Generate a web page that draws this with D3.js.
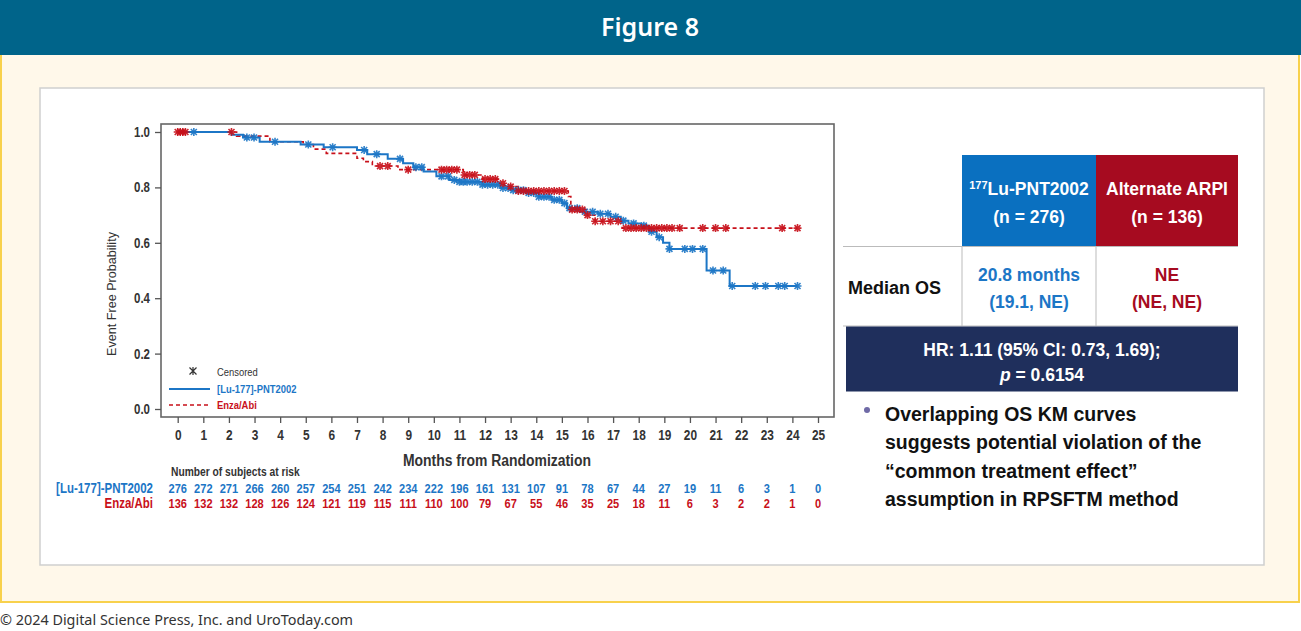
<!DOCTYPE html>
<html><head><meta charset="utf-8">
<script src="https://cdn.jsdelivr.net/npm/d3@7"></script>
<style>
html,body{margin:0;padding:0;background:#fff;}
svg{display:block;}
</style></head>
<body>
<svg id="c" width="1301" height="631"></svg>
<script>
// ---------- DATA ----------
const months = d3.range(0, 26);
const yTicks = [0.0, 0.2, 0.4, 0.6, 0.8, 1.0];
const seriesNames = ["[Lu-177]-PNT2002", "Enza/Abi"];
// Kaplan-Meier steps [month, survival]
const luSteps = [[0,1],[2.1,0.99],[2.55,0.98],[3.2,0.965],[4.8,0.955],[5.7,0.945],[7.0,0.935],[7.4,0.92],[8.2,0.903],[8.8,0.887],[9.2,0.873],[9.6,0.857],[10.1,0.84],[10.6,0.827],[11.0,0.82],[11.9,0.81],[12.6,0.798],[13.0,0.79],[13.6,0.78],[14.1,0.766],[14.6,0.755],[15.0,0.743],[15.2,0.725],[15.7,0.712],[16.4,0.705],[16.9,0.694],[17.3,0.68],[17.6,0.67],[18.1,0.662],[18.4,0.64],[18.7,0.62],[18.95,0.6],[19.2,0.578],[20.65,0.5],[21.55,0.444],[24.2,0.444]];
const enzaSteps = [[0,1],[2.3,0.985],[3.6,0.965],[4.9,0.955],[5.3,0.938],[5.8,0.923],[7.0,0.905],[7.25,0.893],[7.6,0.877],[8.6,0.864],[11.15,0.845],[11.9,0.83],[12.55,0.815],[12.75,0.803],[13.3,0.787],[15.25,0.767],[15.35,0.72],[16.0,0.70],[16.3,0.678],[17.35,0.653],[24.2,0.653]];
// censoring times (months)
const luCensor = [0.63,2.7,2.98,3.8,5.1,6.05,7.28,7.77,8.68,9.3,9.53,10.3,10.56,10.8,11.0,11.15,11.3,11.5,11.7,11.9,12.1,12.3,12.5,12.7,12.9,13.1,13.3,13.5,13.7,13.9,14.1,14.3,14.5,14.7,14.9,15.1,15.3,15.6,15.9,16.2,16.5,16.8,17.1,17.4,17.8,18.2,18.5,18.8,19.2,19.8,20.1,20.5,20.9,21.3,21.65,22.55,22.95,23.45,23.7,24.2];
const enzaCensor = [0.0,0.1,0.2,0.3,2.1,7.9,8.2,9.0,10.3,10.5,10.7,10.9,11.2,11.4,11.6,12.0,12.2,12.4,12.7,13.0,13.3,13.5,13.7,13.9,14.1,14.3,14.5,14.7,14.9,15.1,15.4,15.6,15.8,16.0,16.3,16.6,16.9,17.2,17.5,17.7,17.9,18.1,18.3,18.5,18.7,18.9,19.1,19.3,19.6,20.5,21.0,21.4,23.6,24.2];
// numbers at risk
const luRisk = [276,272,271,266,260,257,254,251,242,234,222,196,161,131,107,91,78,67,44,27,19,11,6,3,1,0];
const enzaRisk = [136,132,132,128,126,124,121,119,115,111,110,100,79,67,55,46,35,25,18,11,6,3,2,2,1,0];
// summary table
const tableHead1 = ["Lu-PNT2002", "(n = 276)"];
const tableHead2 = ["Alternate ARPI", "(n = 136)"];
const medianLu = ["20.8 months", "(19.1, NE)"];
const medianEnza = ["NE", "(NE, NE)"];
const bulletLines = ["Overlapping OS KM curves", "suggests potential violation of the", "\u201ccommon treatment effect\u201d", "assumption in RPSFTM method"];

// ---------- STYLE ----------
const BLUE = "#1c76c6", RED = "#c8101a";
const SANS = "'Liberation Sans',Arial,sans-serif";
const SQ = 0.82; // horizontal condensing for the plot's narrow type

const svg = d3.select("#c");

// narrow text helper
function ntext(parent, x, y, str, opt){
  opt = opt || {};
  return parent.append("text")
    .attr("transform", `translate(${x},${y}) scale(${SQ},1)`)
    .attr("text-anchor", opt.anchor || "start")
    .attr("font-family", SANS)
    .attr("font-size", opt.size || 12)
    .attr("font-weight", opt.weight || "normal")
    .attr("fill", opt.fill || "#333")
    .text(str);
}

// page frame
svg.append("rect").attr("x",0).attr("y",0).attr("width",1301).attr("height",631).attr("fill","#fff");
svg.append("rect").attr("x",1).attr("y",52).attr("width",1298).attr("height",550)
  .attr("fill","#fff8ea").attr("stroke","#f8d14c").attr("stroke-width",2);
svg.append("rect").attr("x",0).attr("y",0).attr("width",1301).attr("height",55).attr("fill","#00648a");
svg.append("text").attr("x",650).attr("y",36).attr("text-anchor","middle")
  .attr("font-family","'Noto Sans','Open Sans',sans-serif").attr("font-weight",600)
  .attr("font-size",25).attr("fill","#fff").text("Figure 8");
svg.append("text").attr("x",0).attr("y",625)
  .attr("font-family","'Noto Sans','Open Sans',sans-serif")
  .attr("font-size",14.4).attr("fill","#333").text("\u00a9 2024 Digital Science Press, Inc. and UroToday.com");

// white panel
svg.append("rect").attr("x",40).attr("y",88).attr("width",1224).attr("height",477)
  .attr("fill","#fff").attr("stroke","#cfcfcf").attr("stroke-width",1.5);

// ---------- KM plot ----------
const x = d3.scaleLinear().domain([0,25]).range([177.7,818]);
const y = d3.scaleLinear().domain([0,1]).range([409,132]);
const fx0 = 161, fx1 = 834, fy0 = 124, fy1 = 417;

const g = svg.append("g");
g.append("rect").attr("x",fx0).attr("y",fy0).attr("width",fx1-fx0).attr("height",fy1-fy0)
  .attr("fill","#fff").attr("stroke","#666").attr("stroke-width",1.6);

// y axis
const yAxis = d3.axisLeft(y).tickValues(yTicks).tickFormat(d3.format(".1f")).tickSize(6).tickSizeOuter(0);
const ya = g.append("g").attr("transform",`translate(${fx0},0)`).call(yAxis);
ya.select(".domain").remove();
ya.selectAll("line").attr("stroke","#555").attr("stroke-width",1.3);
ya.selectAll("text").attr("font-family",SANS).attr("font-weight","bold").attr("font-size",14)
  .attr("fill","#333").attr("x",-11/SQ).attr("transform",`scale(${SQ},1)`);

// x axis
const xAxis = d3.axisBottom(x).tickValues(months).tickFormat(d3.format("d")).tickSize(6).tickSizeOuter(0);
const xa = g.append("g").attr("transform",`translate(0,${fy1})`).call(xAxis);
xa.select(".domain").remove();
xa.selectAll("line").attr("stroke","#555").attr("stroke-width",1.3);
xa.selectAll("text").attr("font-family",SANS).attr("font-weight","bold").attr("font-size",14.5)
  .attr("fill","#333").attr("y",13).attr("transform",`scale(${SQ},1)`);

ntext(g, 497, 466, "Months from Randomization", {anchor:"middle", size:17, weight:"bold"});
g.append("text").attr("transform","translate(116,294) rotate(-90)").attr("text-anchor","middle")
  .attr("font-family",SANS).attr("font-size",12.6).attr("fill","#333")
  .text("Event Free Probability");

// curves
const line = d3.line().x(d=>x(d[0])).y(d=>y(d[1])).curve(d3.curveStepAfter);
function survAt(steps,t){let s=steps[0][1];for(const p of steps){if(p[0]<=t)s=p[1];}return s;}
const marker = "M-4,0H4M0,-4V4M-3,-3L3,3M-3,3L3,-3";

g.append("path").datum(enzaSteps).attr("d",line).attr("fill","none")
  .attr("stroke",RED).attr("stroke-width",1.6).attr("stroke-dasharray","4,3");
g.append("path").datum(luSteps).attr("d",line).attr("fill","none")
  .attr("stroke",BLUE).attr("stroke-width",2);

g.selectAll(".cl").data(luCensor).enter().append("path")
  .attr("transform",d=>`translate(${x(d)},${y(survAt(luSteps,d))})`)
  .attr("d",marker).attr("stroke",BLUE).attr("stroke-width",1.6).attr("opacity",0.9);
g.selectAll(".ce").data(enzaCensor).enter().append("path")
  .attr("transform",d=>`translate(${x(d)},${y(survAt(enzaSteps,d))})`)
  .attr("d",marker).attr("stroke",RED).attr("stroke-width",1.6).attr("opacity",0.9);

// legend
g.append("path").attr("transform","translate(193,371)")
  .attr("d","M-3.5,-3.5L3.5,3.5M-3.5,3.5L3.5,-3.5M0,-4V4")
  .attr("stroke","#333").attr("stroke-width",1.2);
ntext(g, 217, 376, "Censored", {size:11.5});
g.append("line").attr("x1",169).attr("x2",210).attr("y1",389).attr("y2",389).attr("stroke",BLUE).attr("stroke-width",1.8);
ntext(g, 217, 393, seriesNames[0], {size:11.5, weight:"bold", fill:BLUE});
g.append("line").attr("x1",169).attr("x2",210).attr("y1",405).attr("y2",405).attr("stroke",RED)
  .attr("stroke-width",1.5).attr("stroke-dasharray","4,3");
ntext(g, 217, 409, seriesNames[1], {size:11.5, weight:"bold", fill:RED});

// risk table
ntext(g, 171, 476, "Number of subjects at risk", {size:12.5, weight:"bold"});
ntext(g, 153, 493, seriesNames[0], {size:14, weight:"bold", fill:BLUE, anchor:"end"});
ntext(g, 153, 508, seriesNames[1], {size:14, weight:"bold", fill:RED, anchor:"end"});
luRisk.forEach((d,i)=>ntext(g, x(months[i]), 493, d, {size:13.5, weight:"bold", fill:BLUE, anchor:"middle"}));
enzaRisk.forEach((d,i)=>ntext(g, x(months[i]), 508, d, {size:13.5, weight:"bold", fill:RED, anchor:"middle"}));

// ---------- summary table ----------
const t = svg.append("g").attr("font-family",SANS).attr("font-weight","bold");
t.append("rect").attr("x",962).attr("y",155).attr("width",134).attr("height",91).attr("fill","#0a70c0");
t.append("rect").attr("x",1096).attr("y",155).attr("width",142).attr("height",91).attr("fill","#a60b20");
t.append("line").attr("x1",843).attr("x2",1238).attr("y1",246.5).attr("y2",246.5).attr("stroke","#bbb").attr("stroke-width",1);
t.append("line").attr("x1",843).attr("x2",1238).attr("y1",326).attr("y2",326).attr("stroke","#bbb").attr("stroke-width",1);
t.append("line").attr("x1",962).attr("x2",962).attr("y1",246).attr("y2",326).attr("stroke","#bbb").attr("stroke-width",1);
t.append("line").attr("x1",1096).attr("x2",1096).attr("y1",246).attr("y2",326).attr("stroke","#bbb").attr("stroke-width",1);

const h1 = t.append("text").attr("x",1029).attr("y",195).attr("text-anchor","middle").attr("font-size",17.5).attr("fill","#fff");
h1.append("tspan").attr("font-size",11).attr("dy",-6).text("177");
h1.append("tspan").attr("dy",6).text(tableHead1[0]);
t.append("text").attr("x",1029).attr("y",223).attr("text-anchor","middle").attr("font-size",17.5).attr("fill","#fff").text(tableHead1[1]);
t.append("text").attr("x",1167).attr("y",195).attr("text-anchor","middle").attr("font-size",17.5).attr("fill","#fff").text(tableHead2[0]);
t.append("text").attr("x",1167).attr("y",223).attr("text-anchor","middle").attr("font-size",17.5).attr("fill","#fff").text(tableHead2[1]);

t.append("text").attr("x",848).attr("y",294).attr("font-size",18).attr("fill","#111").text("Median OS");
t.append("text").attr("x",1029).attr("y",281).attr("text-anchor","middle").attr("font-size",17.5).attr("fill",BLUE).text(medianLu[0]);
t.append("text").attr("x",1029).attr("y",308).attr("text-anchor","middle").attr("font-size",17.5).attr("fill",BLUE).text(medianLu[1]);
t.append("text").attr("x",1167).attr("y",281).attr("text-anchor","middle").attr("font-size",17.5).attr("fill","#a60b20").text(medianEnza[0]);
t.append("text").attr("x",1167).attr("y",308).attr("text-anchor","middle").attr("font-size",17.5).attr("fill","#a60b20").text(medianEnza[1]);

t.append("rect").attr("x",846).attr("y",326.5).attr("width",392).attr("height",65).attr("fill","#1f2f5c");
t.append("text").attr("x",1042).attr("y",356).attr("text-anchor","middle").attr("font-size",17.5).attr("fill","#fff")
  .text("HR: 1.11 (95% CI: 0.73, 1.69);");
const pt = t.append("text").attr("x",1042).attr("y",381).attr("text-anchor","middle").attr("font-size",17.5).attr("fill","#fff");
pt.append("tspan").attr("font-style","italic").text("p");
pt.append("tspan").text(" = 0.6154");

// bullet
t.append("circle").attr("cx",867).attr("cy",410).attr("r",3).attr("fill","#6f6aa6");
t.selectAll(".bl").data(bulletLines).enter().append("text")
  .attr("x",885).attr("y",(d,i)=>421+i*28.3).attr("font-size",19.5).attr("fill","#111").text(d=>d);
</script>
</body></html>
